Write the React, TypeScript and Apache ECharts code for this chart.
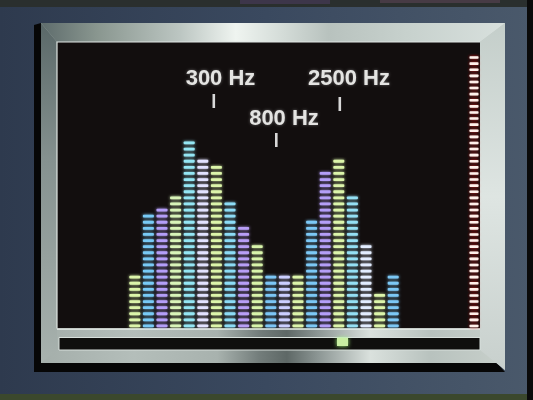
import * as echarts from 'echarts';
import { useEffect, useRef } from 'react';

// spectrum bands, left to right (20 columns)
const bands = [
  'b1', 'b2', 'b3', 'b4', 'b5', 'b6', 'b7', 'b8', 'b9', 'b10',
  'b11', 'b12', 'b13', 'b14', 'b15', 'b16', 'b17', 'b18', 'b19', 'b20'
];
// lit segments per band
const levels = [9, 19, 20, 22, 31, 28, 27, 21, 17, 14, 9, 9, 9, 18, 26, 28, 22, 14, 6, 9];
// level meter at the right edge of the screen
const meterLevel = [45];
const segmentMax = 45;

// frequency markers above the spectrum
const markerLabels = ['300 Hz', '800 Hz', '2500 Hz'];

const bandColors = [
  '#dcf5aa', '#78caf6', '#b49ef8', '#d8f4b8', '#94e6f4', '#e2e2ff', '#dcf5aa',
  '#8cdcf6', '#b89ef6', '#d8f4aa', '#7cc6f6', '#cccfff', '#dcf5aa', '#7cc8f6',
  '#b49ef8', '#dcf5aa', '#94e0f4', '#e2ecff', '#dcf5aa', '#7cc8f6'
];

const lin = (x: number, y: number, x2: number, y2: number, stops: [number, string][]) =>
  new echarts.graphic.LinearGradient(x, y, x2, y2, stops.map(([offset, color]) => ({ offset, color })));

const App: React.FC = () => {
  const chartRef = useRef<HTMLDivElement | null>(null);

  useEffect(() => {
    if (!chartRef.current) return;
    const chart = echarts.init(chartRef.current, null, { renderer: 'svg' });

    const segmentSeries = (
      data: number[][],
      axis: number,
      segW: number,
      segH: number,
      colorOf: (i: number) => string,
      glow: (i: number) => string
    ) => ({
      type: 'custom',
      xAxisIndex: axis,
      yAxisIndex: axis,
      data,
      silent: true,
      renderItem: (params: any, api: any) => {
        const idx = api.value(0);
        const n = api.value(1);
        const children: any[] = [];
        for (let k = 0; k < n; k++) {
          const [cx, cy] = api.coord([idx, k + 0.5]);
          children.push({
            type: 'rect',
            shape: { x: cx - segW / 2, y: cy - segH / 2, width: segW, height: segH, r: 0.8 },
            style: { fill: colorOf(idx), shadowBlur: 3, shadowColor: glow(idx) }
          });
        }
        return { type: 'group', children };
      }
    });

    const textStyle = {
      fill: '#e4e4e2',
      font: 'bold 22px "Liberation Sans", Arial, sans-serif',
      textAlign: 'center',
      textVerticalAlign: 'middle',
      textShadowColor: 'rgba(255,255,255,0.35)',
      textShadowBlur: 3
    };

    const option: any = {
      animation: false,
      backgroundColor: '#36455a',
      grid: [
        { left: 128, width: 272, top: 54.5, height: 274.5 },
        { left: 468, width: 12, top: 54.5, height: 274.5 }
      ],
      xAxis: [
        { type: 'category', data: bands, gridIndex: 0, show: false },
        { type: 'category', data: ['meter'], gridIndex: 1, show: false }
      ],
      yAxis: [
        { type: 'value', min: 0, max: segmentMax, gridIndex: 0, show: false, splitLine: { show: false } },
        { type: 'value', min: 0, max: segmentMax, gridIndex: 1, show: false, splitLine: { show: false } }
      ],
      graphic: [
        { type: 'rect', shape: { x: 0, y: 0, width: 533, height: 400 }, style: { fill: lin(0, 0, 1, 0, [[0, '#2e3a4e'], [0.5, '#3a495f'], [1, '#4a596b']]) } },
        { type: 'rect', shape: { x: 0, y: 0, width: 533, height: 7 }, style: { fill: '#2a2f2e' } },
        { type: 'rect', shape: { x: 240, y: 0, width: 90, height: 4 }, style: { fill: '#6a4a8a', opacity: 0.3 } },
        { type: 'rect', shape: { x: 380, y: 0, width: 120, height: 3 }, style: { fill: '#8a5a7a', opacity: 0.3 } },
        { type: 'rect', shape: { x: 0, y: 394, width: 533, height: 6 }, style: { fill: '#3b482d' } },
        { type: 'rect', shape: { x: 527, y: 0, width: 6, height: 400 }, style: { fill: '#0a0a0a' } },
        // frame shadow
        { type: 'polygon', shape: { points: [[34, 25], [41, 23], [41, 363], [497, 363], [505, 372], [34, 372]] }, style: { fill: '#060606' } },
        // silver frame
        {
          type: 'polygon',
          shape: { points: [[41, 23], [505, 23], [505, 370], [497, 363], [41, 363]] },
          style: { fill: lin(0, 0, 1, 0, [[0, '#a4aeaa'], [0.2, '#b4beba'], [0.38, '#a8b2ae'], [0.47, '#737d7b'], [0.53, '#5e6866'], [0.6, '#8e9896'], [0.71, '#dae1dd'], [0.84, '#b8c2be'], [1, '#c8d0cb']]) }
        },
        {
          type: 'polygon',
          shape: { points: [[41, 23], [505, 23], [480, 42], [57, 42]] },
          style: { fill: lin(0, 0, 1, 0, [[0, '#5e6c6c'], [0.12, '#89968f'], [0.3, '#bcc6c2'], [0.42, '#eff4f0'], [0.52, '#d4dcd8'], [0.62, '#b8c2be'], [0.8, '#c8d2ce'], [1, '#d8e0dd']]) }
        },
        {
          type: 'polygon',
          shape: { points: [[41, 23], [57, 42], [57, 350], [41, 363]] },
          style: { fill: lin(0, 0, 0, 1, [[0, '#5a6868'], [0.4, '#85918f'], [1, '#a8b2ae']]) }
        },
        {
          type: 'polygon',
          shape: { points: [[505, 23], [505, 370], [480, 350], [480, 42]] },
          style: { fill: lin(0, 0, 0, 1, [[0, '#c4ceca'], [0.5, '#dee5e2'], [1, '#c8d0cd']]) }
        },
        // screen
        { type: 'rect', shape: { x: 57, y: 42, width: 423, height: 286.5 }, style: { fill: '#120e0e' } },
        { type: 'polyline', shape: { points: [[57, 328.5], [57, 42], [480, 42]] }, style: { stroke: '#dfe6e3', lineWidth: 1.2, fill: 'none' } },
        { type: 'line', shape: { x1: 57, y1: 329, x2: 480, y2: 329 }, style: { stroke: '#e6ece8', lineWidth: 1.4 } },
        // slider track and knob
        { type: 'rect', shape: { x: 59, y: 337.5, width: 421, height: 12.5 }, style: { fill: '#0f0f0d', stroke: '#d8e0dc', lineWidth: 1 } },
        { type: 'rect', shape: { x: 337, y: 338, width: 11, height: 8 }, style: { fill: '#c8eea2', shadowBlur: 4, shadowColor: '#a8ff80' } },
        // frequency markers
        { type: 'text', x: 220.5, y: 77, style: { ...textStyle, text: markerLabels[0] } },
        { type: 'text', x: 284, y: 117, style: { ...textStyle, text: markerLabels[1] } },
        { type: 'text', x: 349, y: 77, style: { ...textStyle, text: markerLabels[2] } },
        { type: 'rect', shape: { x: 212.5, y: 94, width: 2.6, height: 14 }, style: { fill: '#d8d8d8' } },
        { type: 'rect', shape: { x: 275, y: 133, width: 2.6, height: 14 }, style: { fill: '#d8d8d8' } },
        { type: 'rect', shape: { x: 338.5, y: 97, width: 2.6, height: 14 }, style: { fill: '#d8d8d8' } }
      ],
      series: [
        segmentSeries(
          levels.map((v, i) => [i, v]),
          0,
          11,
          2.8,
          (i) => bandColors[i],
          (i) => bandColors[i]
        ),
        segmentSeries(
          meterLevel.map((v, i) => [i, v]),
          1,
          9,
          2.6,
          () => '#fff0ea',
          () => '#e02020'
        )
      ]
    };

    chart.setOption(option);

    return () => {
      chart.dispose();
    };
  }, []);

  return (
    <div
      ref={chartRef}
      style={{ position: 'fixed', left: 0, top: 0, width: 533, height: 400 }}
    />
  );
};

export default App;
